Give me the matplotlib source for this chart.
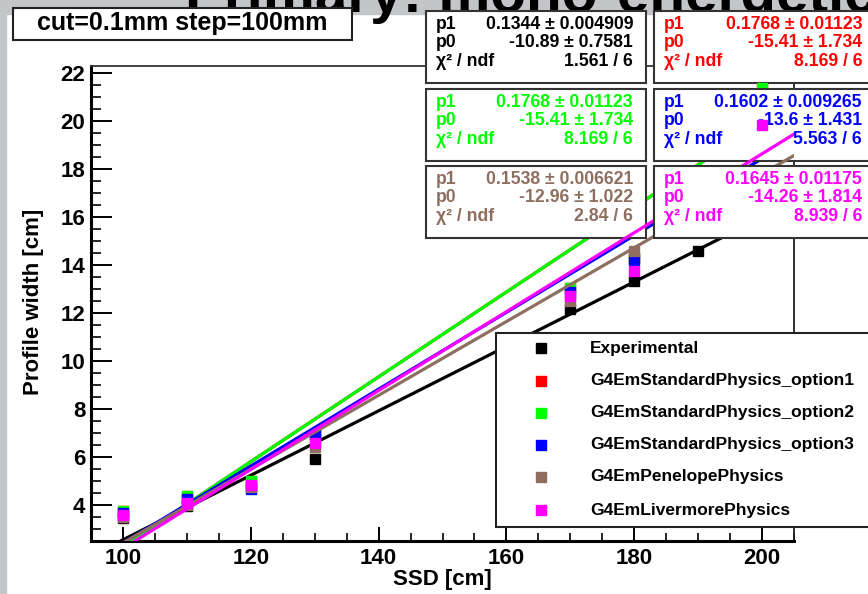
import numpy as np
import matplotlib
matplotlib.use('Agg')
import matplotlib.pyplot as plt
from matplotlib.patches import Rectangle
from matplotlib.ticker import MultipleLocator

plt.rcParams['font.family'] = ['Liberation Sans', 'DejaVu Sans']
plt.rcParams['font.weight'] = 'bold'

# measured widths at each source-surface distance
ssd = [100, 110, 120, 130, 170, 180, 190, 200]
w_exp = [3.45, 3.95, 4.75, 5.90, 12.15, 13.35, 14.60, 16.00]
w_opt1 = [3.75, 4.37, 5.00, 6.95, 13.05, 14.30, 17.50, 21.39]
w_opt2 = [3.75, 4.37, 5.00, 6.95, 13.05, 14.30, 17.50, 21.39]
w_opt3 = [3.68, 4.25, 4.66, 6.90, 12.90, 14.20, 16.50, 18.70]
w_pen = [3.50, 4.00, 4.75, 6.40, 12.50, 14.60, 15.80, 17.60]
w_liv = [3.58, 4.10, 4.83, 6.60, 12.70, 13.75, 16.80, 19.86]

names = ['Experimental', 'G4EmStandardPhysics_option1', 'G4EmStandardPhysics_option2',
         'G4EmStandardPhysics_option3', 'G4EmPenelopePhysics', 'G4EmLivermorePhysics']
colors = ['black', '#ff0000', '#00ff00', '#0000ff', '#8d6e5f', '#ff00ff']

# linear fit results  y = p1*x + p0
p1 = [0.1344, 0.1768, 0.1768, 0.1602, 0.1538, 0.1645]
p1_err = [0.004909, 0.01123, 0.01123, 0.009265, 0.006621, 0.01175]
p0 = [-10.89, -15.41, -15.41, -13.6, -12.96, -14.26]
p0_err = [0.7581, 1.734, 1.734, 1.431, 1.022, 1.814]
chi2 = [1.561, 8.169, 8.169, 5.563, 2.84, 8.939]
ndf = [6, 6, 6, 6, 6, 6]

W, H = 868, 594
def fx(px):
    return px / W
def fy(py):
    return 1 - py / H

fig = plt.figure(figsize=(W / 100, H / 100), dpi=100)
fig.patch.set_facecolor('white')
# grey backdrop strips
fig.add_artist(Rectangle((0, 0), fx(6), 1, transform=fig.transFigure,
                         color='#c3c5c9', zorder=-5))
fig.add_artist(Rectangle((0, fy(14)), 1, 1, transform=fig.transFigure,
                         color='#c3c5c9', zorder=-5))

ax = fig.add_axes([fx(91), 1 - 541 / H, 703 / W, 475 / H])
ax.set_xlim(95, 205)
ax.set_ylim(2.5, 22.3)

ax.xaxis.set_major_locator(MultipleLocator(20))
ax.xaxis.set_minor_locator(MultipleLocator(5))
ax.yaxis.set_major_locator(MultipleLocator(2))
ax.yaxis.set_minor_locator(MultipleLocator(0.5))
ax.tick_params(axis='x', which='major', direction='in', length=10, width=1.4,
               labelsize=16, pad=5)
ax.tick_params(axis='x', which='minor', direction='in', length=5.5, width=1.2)
ax.tick_params(axis='y', which='major', direction='in', length=15, width=1.4,
               labelsize=16, pad=4)
ax.tick_params(axis='y', which='minor', direction='in', length=7, width=1.2)
for lab in ax.get_xticklabels() + ax.get_yticklabels():
    lab.set_fontweight('bold')
ax.spines['left'].set_linewidth(2.2)
ax.spines['bottom'].set_linewidth(2.2)
ax.spines['top'].set_linewidth(1.3)
ax.spines['right'].set_linewidth(1.3)
ax.spines['top'].set_color('#333333')
ax.spines['right'].set_color('#222222')

# big title, mostly hidden under the stat boxes
ax.text(fx(185), fy(12), 'Primary: mono-energetic', transform=fig.transFigure,
        fontsize=42, fontweight='bold', va='baseline', ha='left',
        clip_on=False, zorder=5)

series = [w_exp, w_opt1, w_opt2, w_opt3, w_pen, w_liv]
box_x = [426, 654, 426, 654, 426, 654]
box_y = [11, 11, 89, 89, 166, 166]
xfit = np.array([95.0, 205.0])
for k in range(6):
    z = 10 + 3 * k
    ax.plot(ssd, series[k], ls='none', marker='s', ms=7.5, color=colors[k],
            mec=colors[k], zorder=z, clip_on=False)
    ax.plot(xfit, p1[k] * xfit + p0[k], color=colors[k], lw=2.3, zorder=z + 1)
    # stat box
    x0, y0 = box_x[k], box_y[k]
    bw = 220 if x0 < 600 else 230
    ax.add_patch(Rectangle((fx(x0), fy(y0 + 72)), bw / W, 72 / H,
                           transform=fig.transFigure, facecolor='white',
                           edgecolor='#333333', lw=1.5, clip_on=False, zorder=z + 2))
    xr = x0 + 207 if x0 < 600 else 862
    rows = ['p1', 'p0', 'χ² / ndf']
    vals = ['%s ± %s' % (p1[k], p1_err[k]),
            '%s ± %s' % (p0[k], p0_err[k]),
            '%s / %d' % (chi2[k], ndf[k])]
    for r in range(3):
        yy = y0 + [18, 36, 55][r]
        ax.text(fx(x0 + 10), fy(yy), rows[r], transform=fig.transFigure,
                fontsize=12.7, fontweight='bold', color=colors[k], va='baseline',
                ha='left', clip_on=False, zorder=z + 2.5)
        ax.text(fx(xr), fy(yy), vals[r], transform=fig.transFigure,
                fontsize=12.7, fontweight='bold', color=colors[k], va='baseline',
                ha='right', clip_on=False, zorder=z + 2.5)

# legend box
ax.add_patch(Rectangle((fx(496), fy(527)), 380 / W, 194 / H,
                       transform=fig.transFigure, facecolor='white',
                       edgecolor='#222222', lw=1.5, clip_on=False, zorder=40))
leg_y = [348, 381, 413, 445, 477, 510]
for k in range(6):
    ax.plot([fx(541)], [fy(leg_y[k])], marker='s', ms=7.5, color=colors[k],
            transform=fig.transFigure, clip_on=False, zorder=41)
    ax.text(fx(590), fy(leg_y[k]), names[k], transform=fig.transFigure,
            fontsize=12.5, fontweight='bold', va='center', ha='left',
            clip_on=False, zorder=41)

# cut / step label box
ax.add_patch(Rectangle((fx(13), fy(40)), 339 / W, 32 / H,
                       transform=fig.transFigure, facecolor='white',
                       edgecolor='#222222', lw=1.5, clip_on=False, zorder=42))
ax.text(fx(182), fy(23), 'cut=0.1mm step=100mm', transform=fig.transFigure,
        fontsize=18, fontweight='bold', va='center', ha='center',
        clip_on=False, zorder=43)

fig.text(fx(442), fy(580), 'SSD [cm]', fontsize=16, fontweight='bold',
         ha='center', va='center')
fig.text(fx(34), fy(302), 'Profile width [cm]', fontsize=16, fontweight='bold',
         ha='center', va='center', rotation=90)

fig.savefig('out.png', dpi=100)
